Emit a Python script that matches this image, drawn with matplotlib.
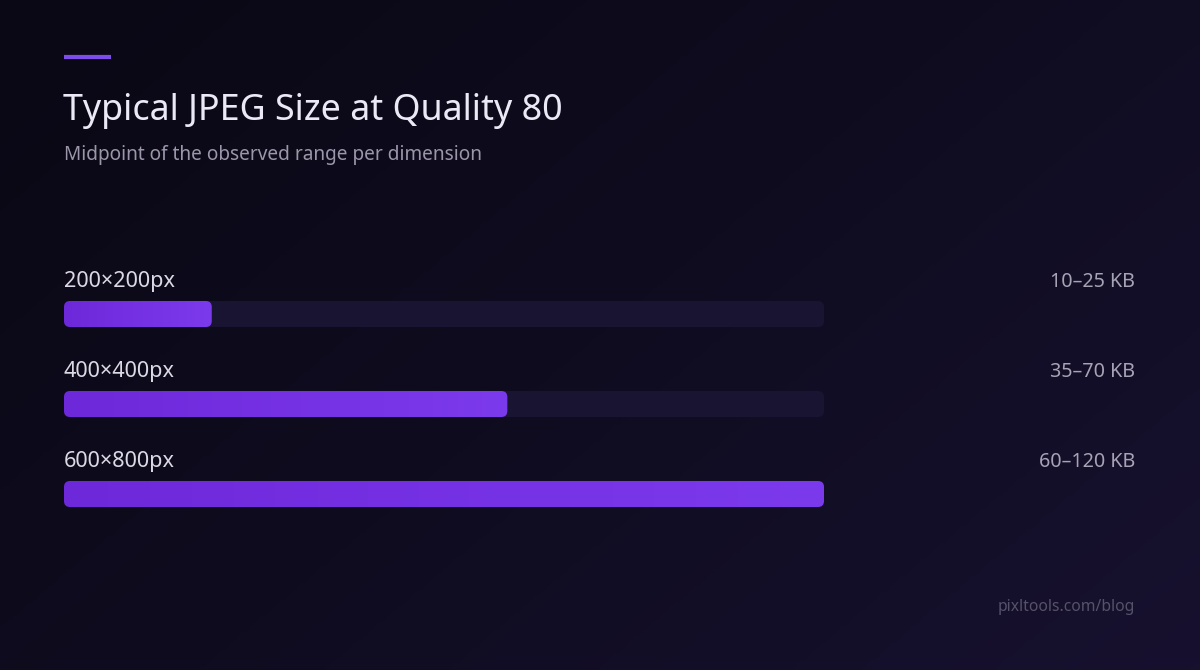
import numpy as np
import matplotlib
matplotlib.use('Agg')
import matplotlib.pyplot as plt
from matplotlib.patches import FancyBboxPatch
from matplotlib.colors import LinearSegmentedColormap

plt.rcParams['font.family'] = ['Noto Sans', 'DejaVu Sans']

# данные
dimensions = ['200×200px', '400×400px', '600×800px']
range_labels = ['10–25 KB', '35–70 KB', '60–120 KB']
range_low = [10, 35, 60]
range_high = [25, 70, 120]
midpoints = [(lo + hi) / 2 for lo, hi in zip(range_low, range_high)]

title = 'Typical JPEG Size at Quality 80'
subtitle = 'Midpoint of the observed range per dimension'
footer = 'pixltools.com/blog'

W, H = 1200, 670
fig = plt.figure(figsize=(W / 100, H / 100), dpi=100)

# фон с диагональным градиентом
bg = fig.add_axes([0, 0, 1, 1])
bg.set_axis_off()
yy, xx = np.mgrid[0:1:200j, 0:1:360j]
t = (xx * 0.6 + yy * 0.4)
bg_cmap = LinearSegmentedColormap.from_list('bg', ['#0a0814', '#0f0c20', '#17112f'])
bg.imshow(t, cmap=bg_cmap, aspect='auto', extent=(0, 1, 0, 1), origin='upper')
bg.set_xlim(0, 1)
bg.set_ylim(0, 1)


def px(x, y):
    return x / W, 1 - y / H


# акцентная линия
bg.plot([64 / W, 111 / W], [1 - 57 / H] * 2, color='#7c4dea', lw=3,
        solid_capstyle='butt')

bg.text(*px(63, 120), title, fontsize=25.8, color='#ece9f7', va='baseline')
bg.text(*px(64, 160), subtitle, fontsize=13.7, color='#9b96aa', va='baseline')
bg.text(*px(1135, 611), footer, fontsize=11.3, color='#56526a',
        va='baseline', ha='right')

# полосы
xmax = max(midpoints)
row_px = 90
n = len(dimensions)
ax = fig.add_axes([64 / W, 1 - (301 + (n - 1) * row_px + 26) / H,
                   760 / W, ((n - 1) * row_px + 26) / H])
ax.set_axis_off()
bar_h = 26 / row_px
ax.set_xlim(0, xmax)
ax.set_ylim((n - 1) + bar_h, 0)

px_per_x = 760 / xmax
radius = 6 / px_per_x
aspect = (1 / row_px) / (1 / px_per_x)

bar_cmap = LinearSegmentedColormap.from_list('bar', ['#6d28d9', '#7c3aed'])
grad = np.linspace(0, 1, 256).reshape(1, -1)

for i, (name, lab, mid) in enumerate(zip(dimensions, range_labels, midpoints)):
    y0 = i
    track = FancyBboxPatch((0, y0), xmax, bar_h,
                           boxstyle=f'round,pad=0,rounding_size={radius}',
                           mutation_aspect=aspect, fc='#1a1433', ec='none')
    ax.add_patch(track)
    bar = FancyBboxPatch((0, y0), mid, bar_h,
                         boxstyle=f'round,pad=0,rounding_size={radius}',
                         mutation_aspect=aspect, fc='none', ec='none')
    ax.add_patch(bar)
    im = ax.imshow(grad, cmap=bar_cmap, aspect='auto',
                   extent=(0, mid, y0 + bar_h, y0), zorder=3)
    im.set_clip_path(bar)
    ax.set_xlim(0, xmax)
    ax.set_ylim((n - 1) + bar_h, 0)

    ty = 287 + i * row_px
    bg.text(*px(64, ty), name, fontsize=15.6, color='#dcd8e6', va='baseline')
    bg.text(*px(1135, ty), lab, fontsize=14.2, color='#a7a2b4', va='baseline',
            ha='right')

fig.savefig('out.png', dpi=100, facecolor='#0c0a18')
plt.close(fig)
